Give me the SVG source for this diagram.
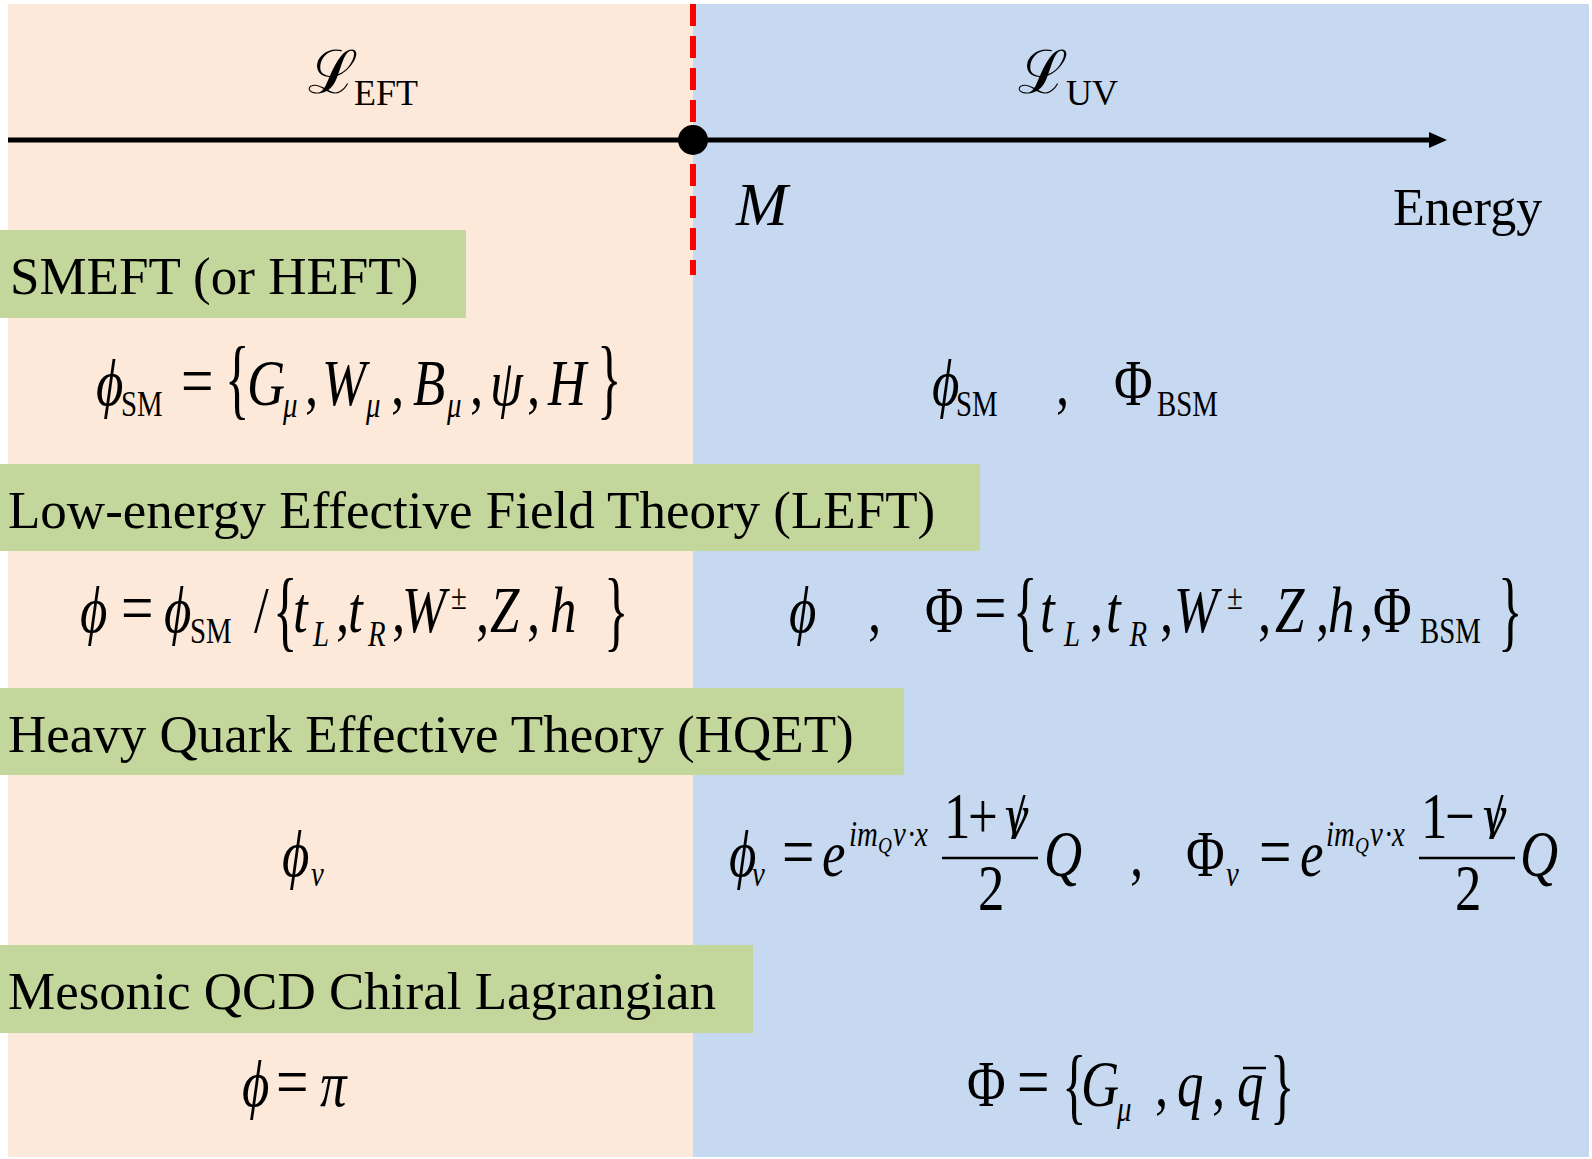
<svg xmlns="http://www.w3.org/2000/svg" width="1592" height="1159" viewBox="0 0 1592 1159">
<defs>
<style>
.lbl{font-family:"Liberation Serif","Times New Roman",serif;font-size:53px;fill:#000}
.f{font-family:"Liberation Serif","Times New Roman",serif;font-size:66px;font-style:italic;fill:#000}
.u{font-style:normal}
.eq{font-style:normal;font-size:72px}
.s{font-size:36px}
.ss{font-size:24px}
.br{font-family:"Liberation Serif","Times New Roman",serif;font-size:60px;fill:#000}
.box{fill:#C3D69B}
.bar{stroke:#000;stroke-width:2.5}
.sc{font-family:"DejaVu Serif","Liberation Serif",serif;font-size:60px;fill:#000}
.sub{font-family:"Liberation Serif","Times New Roman",serif;font-size:36px;fill:#000}
</style>
<marker id="arr" viewBox="0 0 18 16" refX="0" refY="8" markerWidth="18" markerHeight="16" markerUnits="userSpaceOnUse" orient="auto"><path d="M0,0 L18,8 L0,16 z" fill="#000"/></marker>
</defs>

<g id="background">
<rect x="8" y="4" width="685" height="1153" fill="#FDE9D9"/>
<rect x="693" y="4" width="896" height="1153" fill="#C6D9F1"/>
</g>

<g id="connectors">
<line x1="693" y1="4" x2="693" y2="275" stroke="#FF0000" stroke-width="6" stroke-dasharray="22 10"/>
<line x1="8" y1="140" x2="1429" y2="140" stroke="#000" stroke-width="5" marker-end="url(#arr)"/>
<circle cx="693" cy="140" r="15" fill="#000"/>
</g>

<g id="axis-labels">
<text class="sc" x="308" y="93">ℒ</text><text class="sub" x="354" y="105">EFT</text>
<text class="sc" x="1018" y="93">ℒ</text><text class="sub" x="1066" y="105">UV</text>
<text class="f" x="736" y="225" style="font-size:62px">M</text>
<text class="lbl" x="1393" y="225" style="font-size:52px">Energy</text>
</g>

<g id="smeft">
<rect class="box" x="0" y="230" width="466" height="88"/>
<text class="lbl" x="10" y="294">SMEFT (or HEFT)</text>
</g>
<g id="left">
<rect class="box" x="0" y="464" width="980" height="87"/>
<text class="lbl" x="8" y="528">Low-energy Effective Field Theory (LEFT)</text>
</g>
<g id="hqet">
<rect class="box" x="0" y="688" width="904" height="87"/>
<text class="lbl" x="8" y="752">Heavy Quark Effective Theory (HQET)</text>
</g>
<g id="chiral">
<rect class="box" x="0" y="945" width="753" height="88"/>
<text class="lbl" x="8" y="1009">Mesonic QCD Chiral Lagrangian</text>
</g>

<g id="eq-smeft-left">
<g transform="scale(0.8,1)">
<text class="f"><tspan x="120" y="405">ϕ</tspan><tspan class="u s" x="151.25" y="416">SM</tspan><tspan class="eq" x="226.25" y="405">=</tspan><tspan x="308.75" y="405">G</tspan><tspan class="s" x="353.75" y="417">μ</tspan><tspan class="u" x="381.25" y="405">,</tspan><tspan x="402.5" y="405">W</tspan><tspan class="s" x="457.5" y="417">μ</tspan><tspan class="u" x="488.75" y="405">,</tspan><tspan x="516.25" y="405">B</tspan><tspan class="s" x="558.75" y="417">μ</tspan><tspan class="u" x="587.5" y="405">,</tspan><tspan x="612.5" y="405">ψ</tspan><tspan class="u" x="658.75" y="405">,</tspan><tspan x="685" y="405">H</tspan></text>
</g>
<text class="br" transform="translate(225,386) scale(0.85,1.49)" y="15">{</text>
<text class="br" transform="translate(597,386) scale(0.85,1.49)" y="15">}</text>
</g>

<g id="eq-smeft-right">
<g transform="scale(0.8,1)">
<text class="f"><tspan x="1165" y="405">ϕ</tspan><tspan class="u s" x="1195" y="416">SM</tspan><tspan class="u" x="1320" y="405">,</tspan><tspan class="u" x="1392.5" y="405">Φ</tspan><tspan class="u s" x="1446.25" y="416">BSM</tspan></text>
</g>
</g>

<g id="eq-left-left">
<g transform="scale(0.8,1)">
<text class="f"><tspan x="100" y="632">ϕ</tspan><tspan class="eq" x="151.25" y="632">=</tspan><tspan x="205" y="632">ϕ</tspan><tspan class="u s" x="237.5" y="643">SM</tspan><tspan class="u" x="317.5" y="632">/</tspan><tspan x="366.25" y="632">t</tspan><tspan class="s" x="391.25" y="646">L</tspan><tspan class="u" x="420" y="632">,</tspan><tspan x="435" y="632">t</tspan><tspan class="s" x="460" y="646">R</tspan><tspan class="u" x="490" y="632">,</tspan><tspan x="502.5" y="632">W</tspan><tspan class="u s" x="563.75" y="609">±</tspan><tspan class="u" x="595" y="632">,</tspan><tspan x="612.5" y="632">Z</tspan><tspan class="u" x="658.75" y="632">,</tspan><tspan x="687.5" y="632">h</tspan></text>
</g>
<text class="br" transform="translate(273,618) scale(0.85,1.49)" y="15">{</text>
<text class="br" transform="translate(604,618) scale(0.85,1.49)" y="15">}</text>
</g>

<g id="eq-left-right">
<g transform="scale(0.8,1)">
<text class="f"><tspan x="986.25" y="632">ϕ</tspan><tspan class="u" x="1085" y="632">,</tspan><tspan class="u" x="1156.25" y="632">Φ</tspan><tspan class="eq" x="1217.5" y="632">=</tspan><tspan x="1300" y="632">t</tspan><tspan class="s" x="1330" y="646">L</tspan><tspan class="u" x="1362.5" y="632">,</tspan><tspan x="1382.5" y="632">t</tspan><tspan class="s" x="1412" y="646">R</tspan><tspan class="u" x="1450" y="632">,</tspan><tspan x="1467.5" y="632">W</tspan><tspan class="u s" x="1533.75" y="609">±</tspan><tspan class="u" x="1572.5" y="632">,</tspan><tspan x="1593.75" y="632">Z</tspan><tspan class="u" x="1645" y="632">,</tspan><tspan x="1660" y="632">h</tspan><tspan class="u" x="1700" y="632">,</tspan><tspan class="u" x="1716.25" y="632">Φ</tspan><tspan class="u s" x="1775" y="643">BSM</tspan></text>
</g>
<text class="br" transform="translate(1013,618) scale(0.85,1.49)" y="15">{</text>
<text class="br" transform="translate(1498,618) scale(0.85,1.49)" y="15">}</text>
</g>

<g id="eq-hqet-left">
<g transform="scale(0.8,1)">
<text class="f"><tspan x="352.5" y="876">ϕ</tspan><tspan class="s" x="388.75" y="886">v</tspan></text>
</g>
</g>

<g id="eq-hqet-right">
<g transform="scale(0.8,1)">
<text class="f"><tspan x="911.25" y="876">ϕ</tspan><tspan class="s" x="940" y="886">v</tspan><tspan class="eq" x="977.5" y="876">=</tspan><tspan x="1027.5" y="876">e</tspan><tspan class="s" x="1061.25" y="846">im</tspan><tspan class="ss" x="1097.5" y="853">Q</tspan><tspan class="s" x="1116.25" y="846">v</tspan><tspan class="u s" x="1133.75" y="846">·</tspan><tspan class="s" x="1143.75" y="846">x</tspan><tspan class="u" x="1180" y="838">1</tspan><tspan class="u" x="1210" y="838">+</tspan><tspan x="1256.25" y="838">v</tspan><tspan class="u" x="1263.75" y="838">/</tspan><tspan class="u" x="1222.5" y="910">2</tspan><tspan x="1305" y="876">Q</tspan><tspan class="u" x="1412.5" y="876">,</tspan><tspan class="u" x="1482.5" y="876">Φ</tspan><tspan class="s" x="1532.5" y="886">v</tspan><tspan class="eq" x="1573.75" y="876">=</tspan><tspan x="1625" y="876">e</tspan><tspan class="s" x="1657.5" y="846">im</tspan><tspan class="ss" x="1693.75" y="853">Q</tspan><tspan class="s" x="1712.5" y="846">v</tspan><tspan class="u s" x="1730" y="846">·</tspan><tspan class="s" x="1740" y="846">x</tspan><tspan class="u" x="1776.25" y="838">1</tspan><tspan class="u" x="1806.25" y="838">−</tspan><tspan x="1853.75" y="838">v</tspan><tspan class="u" x="1861.25" y="838">/</tspan><tspan class="u" x="1818.75" y="910">2</tspan><tspan x="1900" y="876">Q</tspan></text>
</g>
<line class="bar" x1="942" y1="858" x2="1038" y2="858"/>
<line class="bar" x1="1419" y1="858" x2="1515" y2="858"/>
</g>

<g id="eq-chiral-left">
<g transform="scale(0.8,1)">
<text class="f"><tspan x="302.5" y="1106">ϕ</tspan><tspan class="eq" x="345" y="1106">=</tspan><tspan x="400" y="1106">π</tspan></text>
</g>
</g>

<g id="eq-chiral-right">
<g transform="scale(0.8,1)">
<text class="f"><tspan class="u" x="1208.75" y="1106">Φ</tspan><tspan class="eq" x="1271.25" y="1106">=</tspan><tspan x="1351.25" y="1106">G</tspan><tspan class="s" x="1396.25" y="1121">μ</tspan><tspan class="u" x="1443.75" y="1106">,</tspan><tspan x="1471.25" y="1106">q</tspan><tspan class="u" x="1515" y="1106">,</tspan><tspan x="1546.25" y="1106">q</tspan></text>
</g>
<line class="bar" x1="1243" y1="1068" x2="1266" y2="1068"/>
<text class="br" transform="translate(1062,1093) scale(0.85,1.4)" y="15">{</text>
<text class="br" transform="translate(1270,1093) scale(0.85,1.4)" y="15">}</text>
</g>
</svg>
